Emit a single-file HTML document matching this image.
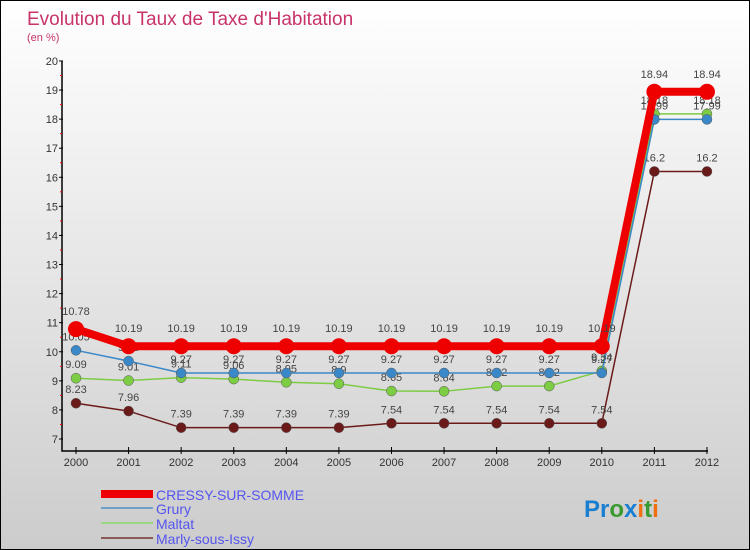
<!DOCTYPE html>
<html><head><meta charset="utf-8"><style>
body{margin:0}
#c{width:748px;height:548px;border:1px solid #000;background:linear-gradient(#fff,#ccc);position:relative;overflow:hidden;font-family:"Liberation Sans",sans-serif}
</style></head><body>
<div id="c">
<svg id="s" width="748" height="548" style="position:absolute;left:0;top:0">
<text x="26" y="24" font-size="19" fill="#c8336a">Evolution du Taux de Taxe d'Habitation</text>
<text x="26" y="40" font-size="11" fill="#c8336a">(en %)</text>
<g id="g"></g>
<g>
<rect x="100" y="489" width="52" height="8" fill="#e00"/>
<text x="155" y="499" font-size="14" fill="#5555ee">CRESSY-SUR-SOMME</text>
<rect x="100" y="506" width="52" height="2" fill="#6fa0c8"/>
<text x="155" y="513" font-size="14" fill="#5555ee">Grury</text>
<rect x="100" y="521" width="52" height="2" fill="#99d880"/>
<text x="155" y="528" font-size="14" fill="#5555ee">Maltat</text>
<rect x="100" y="536" width="52" height="2" fill="#8a5a5a"/>
<text x="155" y="543" font-size="14" fill="#5555ee">Marly-sous-Issy</text>
</g>
<text x="583" y="516" font-size="24" font-weight="bold"><tspan fill="#1a7fd0">Pr</tspan><tspan fill="#3a9a30">o</tspan><tspan fill="#1a7fd0">x</tspan><tspan fill="#f07010">i</tspan><tspan fill="#3a9a30">t</tspan><tspan fill="#f07010">i</tspan></text>
</svg>
</div>
<script>
const years=[2000,2001,2002,2003,2004,2005,2006,2007,2008,2009,2010,2011,2012];
const cressy=[10.78,10.19,10.19,10.19,10.19,10.19,10.19,10.19,10.19,10.19,10.19,18.94,18.94];
const grury=[10.05,9.68,9.27,9.27,9.27,9.27,9.27,9.27,9.27,9.27,9.27,17.99,17.99];
const maltat=[9.09,9.01,9.11,9.06,8.95,8.9,8.65,8.64,8.82,8.82,9.34,18.18,18.18];
const marly=[8.23,7.96,7.39,7.39,7.39,7.39,7.54,7.54,7.54,7.54,7.54,16.2,16.2];
const yTicks=[7,8,9,10,11,12,13,14,15,16,17,18,19,20];
const NS="http://www.w3.org/2000/svg";
const g=document.getElementById('g');
const X=i=>75+i*52.58;
const Y=v=>438-(v-7)*29.08;
function mk(t,a){const e=document.createElementNS(NS,t);for(const k in a)e.setAttribute(k,a[k]);g.appendChild(e);return e;}
let ax=mk('path',{d:`M61 ${Y(20)} V450 H707`,stroke:'#000','stroke-width':1.5,fill:'none'});


yTicks.forEach(v=>{
  let t=mk('line',{x1:58,x2:62,y1:Y(v),y2:Y(v),stroke:'#000'});
  
  
  let l=mk('text',{x:57,y:Y(v)+4,'font-size':11,'text-anchor':'end',fill:'#333'});l.textContent=v;
  
  
  if(v<20){let m=mk('line',{x1:59,x2:61,y1:Y(v+0.5),y2:Y(v+0.5),stroke:'#f00'});
  
  }
});
years.forEach((y,i)=>{
  let t=mk('line',{x1:X(i),x2:X(i),y1:446,y2:453,stroke:'#000'});
  
  
  let l=mk('text',{x:X(i),y:465,'font-size':11,'text-anchor':'middle',fill:'#333'});l.textContent=y;
  
  
});
function series(d,name,col,w,r){
  let p=mk('polyline',{points:d.map((v,i)=>X(i)+','+Y(v)).join(' '),stroke:col,'stroke-width':w,fill:'none'});
  
  
  d.forEach((v,i)=>{
    let c=mk('circle',{cx:X(i),cy:Y(v),r:r,fill:col,stroke:r<6?'#555':'none','stroke-width':0.5});
    
    
    let l=mk('text',{x:X(i),y:Y(v)-10-(r>5?4:0),'font-size':11,'text-anchor':'middle',fill:'#444'});l.textContent=v;
    
    
  });
}
series(marly,'marly','#6b1a1a',1.5,5);
series(maltat,'maltat','#7ccc44',1.5,5);
series(grury,'grury','#3a88c8',1.5,5);
series(cressy,'cressy','#ee0000',8,8);
</script>
</body></html>
